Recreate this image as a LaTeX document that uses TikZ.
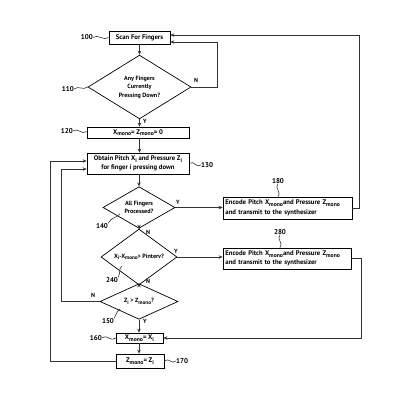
\documentclass[tikz,border=0pt]{standalone}
\usepackage{fontspec}
\setmainfont{PT Sans}
\usetikzlibrary{shapes.geometric,arrows.meta,calc}
\newcommand{\lsub}[1]{\raisebox{-0.5ex}{\scalebox{0.85}{#1}}}
\begin{document}
\begin{tikzpicture}[x=1pt,y=-1pt,
  ln/.style={draw=black!80,line width=0.7pt},
  arr/.style={ln,-{Stealth[length=4pt,width=3.5pt]}},
  boxn/.style={draw=black,line width=0.7pt,rectangle,inner sep=0pt,align=center,font=\bfseries\fontsize{6.7}{9.5}\selectfont},
  dia/.style={draw=black,line width=0.7pt,diamond,inner sep=0pt,align=center,font=\bfseries\fontsize{6.1}{8.5}\selectfont},
  yn/.style={inner sep=0pt,font=\bfseries\fontsize{6}{6}\selectfont},
  lab/.style={inner sep=0pt,font=\bfseries\fontsize{7}{7}\selectfont},
  sq/.style={draw=black!80,line width=0.6pt}]
\useasboundingbox (0,0) rectangle (400,400);
% boxes
\node[boxn,minimum width=61pt,minimum height=13pt] (scan) at (139.5,37.5) {Scan For Fingers};
\node[dia,minimum width=103pt,minimum height=60pt] (d110) at (139.5,87) {Any Fingers\\Currently\\Pressing Down?};
\node[boxn,minimum width=102pt,minimum height=11pt] (b120) at (138,132.5) {X\lsub{mono}= Z\lsub{mono}= 0};
\node[boxn,minimum width=102pt,minimum height=21pt] (b130) at (138,163.5) {Obtain Pitch X\lsub{i} and Pressure Z\lsub{i}\\for finger i pressing down};
\node[dia,minimum width=72pt,minimum height=41pt] (d140) at (139,207.5) {All Fingers\\Processed?};
\node[dia,minimum width=76pt,minimum height=38pt] (d240) at (139,257) {X\lsub{i}-X\lsub{mono}> Pinterv?};
\node[dia,minimum width=78pt,minimum height=29pt] (d150) at (139,301.5) {Z\lsub{i} > Z\lsub{mono}?};
\node[boxn,minimum width=47pt,minimum height=10pt] (b160) at (139.5,338) {X\lsub{mono}= X\lsub{i}};
\node[boxn,minimum width=48pt,minimum height=14pt] (b170) at (140,361) {Z\lsub{mono}= Z\lsub{i}};
\node[boxn,minimum width=129pt,minimum height=22pt,align=left,text width=124pt] (b180) at (287.5,208) {Encode Pitch X\lsub{mono}and Pressure Z\lsub{mono}\\and transmit to the synthesizer};
\node[boxn,minimum width=128pt,minimum height=21pt,align=left,text width=123pt] (b280) at (287,258.5) {Encode Pitch X\lsub{mono}and Pressure Z\lsub{mono}\\and transmit to the synthesizer};
% main flow
\draw[arr] (scan.south) -- (d110.north);
\draw[arr] (d110.south) -- (b120.north -| d110.south);
\draw[arr] (b120.south -| d110.south) -- (b130.north -| d110.south);
\draw[arr] (b130.south -| d140.north) -- (d140.north);
\draw[arr] (d140.south) -- (d240.north);
\draw[arr] (d240.south) -- (d150.north);
\draw[arr] (d150.south) -- (b160.north -| d150.south);
\draw[arr] (b160.south -| d150.south) -- (b170.north -| d150.south);
\draw[arr] (d140.east) -- (b180.west |- d140.east);
\draw[arr] (d240.east) -- (b280.west |- d240.east);
% loops
\draw[arr] (d110.east) -- ++(26,0) |- ([yshift=-4.5pt]scan.east);
\draw[arr] (b180.east) -- ++(7,0) |- ([yshift=2.5pt]scan.east);
\draw[arr] (b280.east) -- ++(9.5,0) |- (b160.east);
\draw[arr] (d150.west) -- ++(-38,0) |- ([yshift=-5.5pt]b130.west);
\draw[arr] (b170.west) -- ++(-65,0) |- ([yshift=2.5pt]b130.west);
% Y / N labels
\node[yn] (n110) at (196,80) {N};
\node[yn] (y110) at (145,121) {Y};
\node[yn] (y140) at (178,202) {Y};
\node[yn] (n140) at (148,232) {N};
\node[yn] (y240) at (176,251) {Y};
\node[yn] (n240) at (148,281) {N};
\node[yn] (n150) at (93,295) {N};
\node[yn] (y150) at (145,321) {Y};
% reference numerals
\node[lab,anchor=east] (l100) at (93,37.5) {100};
\node[lab,anchor=east] (l110) at (74,89) {110};
\node[lab,anchor=east] (l120) at (73,131) {120};
\node[lab,anchor=west] (l130) at (201,165) {130};
\node[lab] (l140) at (102,226) {140};
\node[lab] (l240) at (112,280) {240};
\node[lab] (l150) at (108,321) {150};
\node[lab,anchor=east] (l160) at (102,338) {160};
\node[lab,anchor=west] (l170) at (176,361) {170};
\node[lab] (l180) at (278,181) {180};
\node[lab] (l280) at (280,232) {280};
% squiggles
\draw[sq] (l100.east) .. controls +(5,-4) and +(-5,4) .. (scan.west);
\draw[sq] (l110.east) .. controls +(5,-4) and +(-5,4) .. (d110.west);
\draw[sq] (l120.east) .. controls +(5,-4) and +(-5,4) .. ([yshift=1pt]b120.west);
\draw[sq] (b130.east) .. controls +(5,-4) and +(-5,4) .. (l130.west);
\draw[sq] (b160.west) .. controls +(-6,4) and +(6,-4) .. (l160.east);
\draw[sq] (b170.east) .. controls +(5,-4) and +(-5,4) .. (l170.west);
\draw[sq] (l140.north east) .. controls +(3,-6) and +(-4,4) .. (120,214);
\draw[sq] (l240.north east) .. controls +(3,-6) and +(-4,4) .. (122,266);
\draw[sq] (l150.north east) .. controls +(3,-6) and +(-4,4) .. (120,309);
\draw[sq] (l180.south) .. controls +(-4,4) and +(4,-4) .. (b180.north -| l180.south);
\draw[sq] (l280.south) .. controls +(-4,4) and +(4,-4) .. (b280.north -| l280.south);
\end{tikzpicture}
\end{document}
